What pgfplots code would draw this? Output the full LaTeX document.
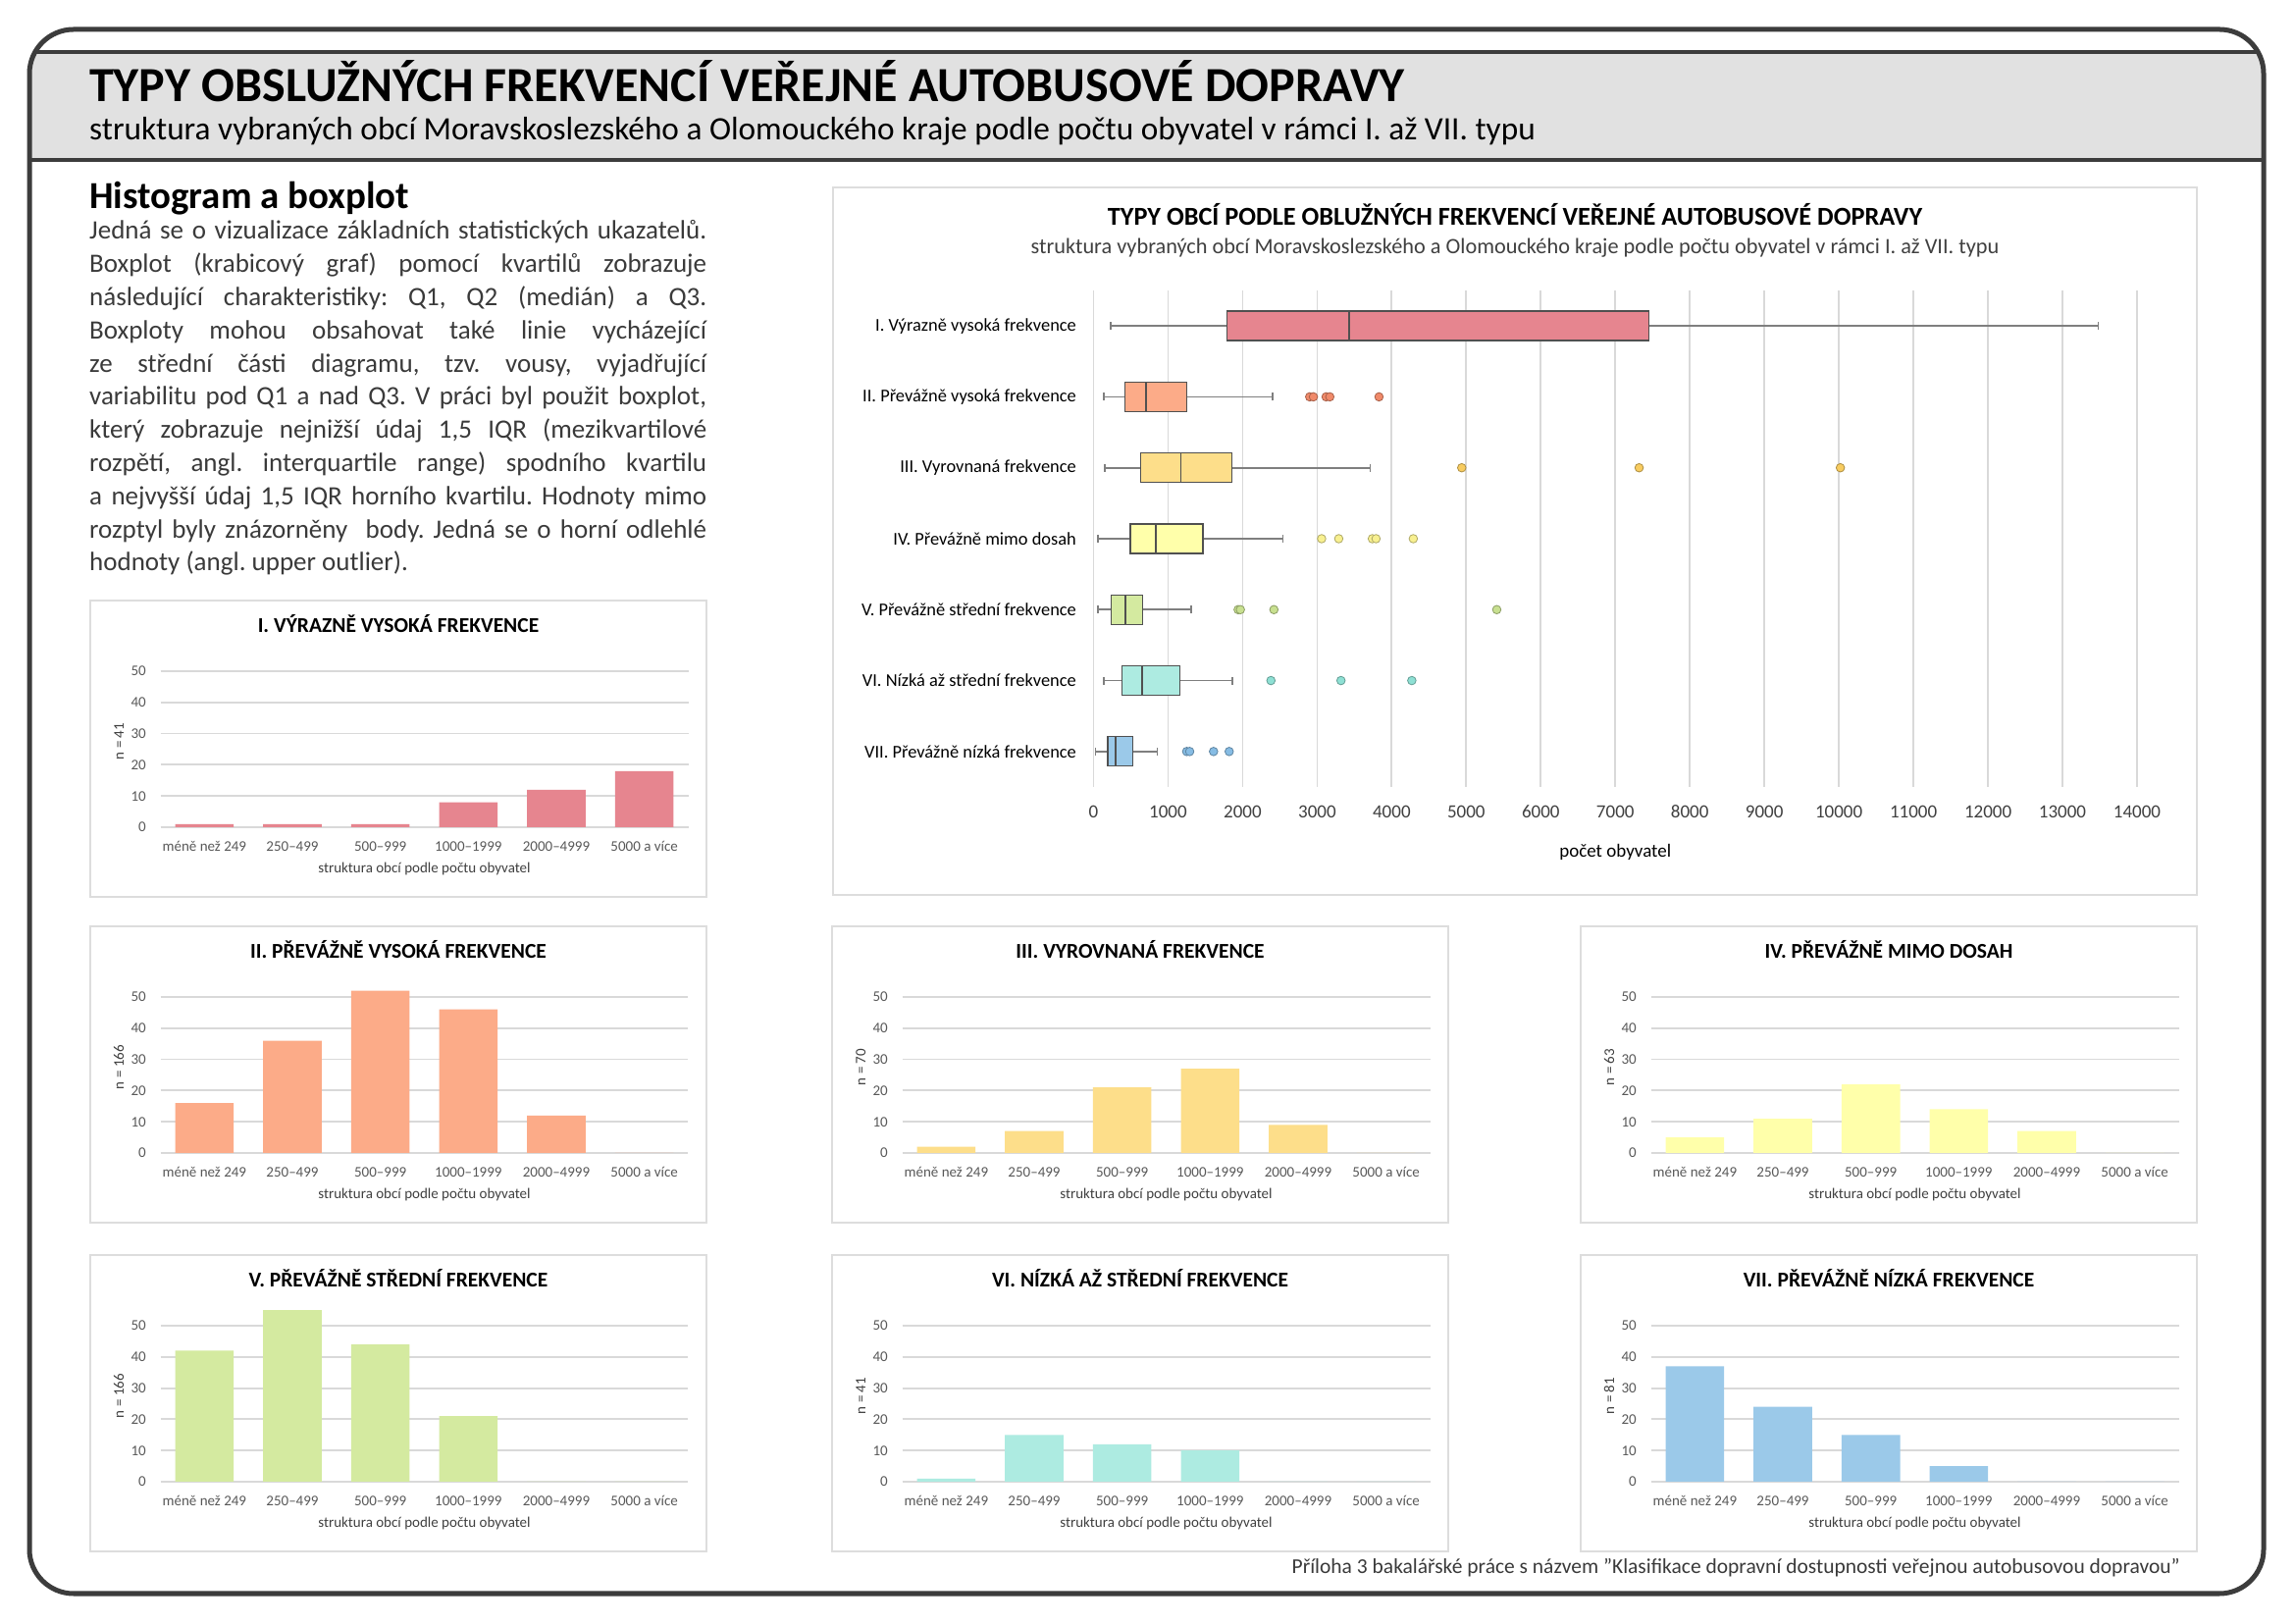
\documentclass[border=0pt]{standalone}
\usepackage{fontspec}
\setmainfont{Carlito}
\usepackage{pgfplots}
\pgfplotsset{compat=1.18}
\usepgfplotslibrary{statistics}
\usetikzlibrary{calc}
\frenchspacing

\definecolor{cI}{HTML}{E6858F}
\definecolor{cII}{HTML}{FCAB88}
\definecolor{cIII}{HTML}{FDDE8A}
\definecolor{cIV}{HTML}{FFFFAA}
\definecolor{cV}{HTML}{D4EAA0}
\definecolor{cVI}{HTML}{ADEBE1}
\definecolor{cVII}{HTML}{9BC9E9}
\definecolor{oII}{HTML}{F08A6A}
\definecolor{oIII}{HTML}{F8CC60}
\definecolor{oIV}{HTML}{F8F090}
\definecolor{oV}{HTML}{C8E090}
\definecolor{oVI}{HTML}{8EE0D4}
\definecolor{oVII}{HTML}{86BCE4}
\definecolor{framedark}{HTML}{3C3C3C}
\definecolor{bandgray}{HTML}{E1E1E1}
\definecolor{framegray}{HTML}{DDDDDD}
\definecolor{gridgray}{HTML}{D9D9D9}
\definecolor{tickgray}{HTML}{595959}
\definecolor{labelgray}{HTML}{404040}
\definecolor{bodygray}{HTML}{3A3A3A}
\definecolor{boxdark}{HTML}{505050}
\definecolor{whiskergray}{HTML}{7F7F7F}

\newcommand{\fs}[1]{\fontsize{#1}{#1}\selectfont}

\pgfplotsset{histstyle/.style={
  anchor=south west, scale only axis, width=538pt, height=174.9pt,
  xmin=-0.5, xmax=5.5, ymin=0, ymax=55, enlargelimits=false,
  axis line style={draw=none}, major tick length=0pt,
  ytick={0,10,20,30,40,50}, yticklabels={0,10,20,30,40,50},
  xtick={0,1,2,3,4,5},
  xticklabels={méně než 249,250–499,500–999,1000–1999,2000–4999,5000 a více},
  ymajorgrids, grid style={gridgray, line width=1.8pt},
  xticklabel style={font=\fs{15}, text=tickgray, anchor=base, inner sep=0pt, yshift=-24.5pt},
  yticklabel style={font=\fs{15}, text=tickgray, anchor=east, inner sep=0pt, xshift=-14.5pt},
  xlabel={struktura obcí podle počtu obyvatel},
  xlabel style={font=\fs{15}, text=labelgray, at={(axis description cs:0.5,0)}, anchor=base, yshift=-46.5pt},
  ylabel style={font=\fs{15}, text=labelgray, at={(axis description cs:-0.0697,0.5)}, anchor=base},
}}

\newcommand{\histpanel}[6]{%
  \draw[framegray, line width=2pt] (#1pt,#2pt) rectangle ++(628pt,-302pt);
  \node[anchor=base, font=\bfseries\fs{21.5}, inner sep=0pt] at ($(#1pt,#2pt)+(314pt,-33pt)$) {#4};
  \begin{axis}[histstyle, at={($(#1pt,#2pt)+(71.5pt,-231pt)$)}, ylabel={n = #5}]
    \addplot[ybar, fill=#3, draw=none, bar width=0.665] coordinates {#6};
  \end{axis}%
}

\begin{document}
\begin{tikzpicture}
\useasboundingbox (0,0) rectangle (2339pt,1654pt);
\fill[white] (0,0) rectangle (2339pt,1654pt);

% header band and frame
\begin{scope}
  \clip[rounded corners=45pt] (30pt,30pt) rectangle (2307pt,1624pt);
  \fill[bandgray] (0,1491pt) rectangle (2339pt,1601pt);
  \draw[framedark, line width=4pt] (0,1601pt) -- (2339pt,1601pt);
  \draw[framedark, line width=4pt] (0,1491pt) -- (2339pt,1491pt);
\end{scope}
\draw[framedark, line width=5pt, rounded corners=45pt] (30pt,30pt) rectangle (2307pt,1624pt);

\node[anchor=base west, inner sep=0pt, font=\bfseries\fs{50}] at (91pt,1550pt) {TYPY OBSLUŽNÝCH FREKVENCÍ VEŘEJNÉ AUTOBUSOVÉ DOPRAVY};
\node[anchor=base west, inner sep=0pt, font=\fs{33.3}] at (91pt,1511pt) {struktura vybraných obcí Moravskoslezského a Olomouckého kraje podle počtu obyvatel v rámci I. až VII. typu};

% left text
\node[anchor=base west, inner sep=0pt, font=\bfseries\fs{38.9}] at (91pt,1441pt) {Histogram a boxplot};
\begin{scope}[every node/.style={anchor=base west, inner sep=0pt, font=\fs{27}, text=bodygray}]
\node at (91pt,1410pt)   {\makebox[629pt][s]{Jedná se o vizualizace základních statistických ukazatelů.}};
\node at (91pt,1376.2pt) {\makebox[629pt][s]{Boxplot (krabicový graf) pomocí kvartilů zobrazuje}};
\node at (91pt,1342.4pt) {\makebox[629pt][s]{následující charakteristiky: Q1, Q2 (medián) a Q3.}};
\node at (91pt,1308.6pt) {\makebox[629pt][s]{Boxploty mohou obsahovat také linie vycházející}};
\node at (91pt,1274.8pt) {\makebox[629pt][s]{ze střední části diagramu, tzv. vousy, vyjadřující}};
\node at (91pt,1241pt)   {\makebox[629pt][s]{variabilitu pod Q1 a nad Q3. V práci byl použit boxplot,}};
\node at (91pt,1207.2pt) {\makebox[629pt][s]{který zobrazuje nejnižší údaj 1,5 IQR (mezikvartilové}};
\node at (91pt,1173.4pt) {\makebox[629pt][s]{rozpětí, angl. interquartile range) spodního kvartilu}};
\node at (91pt,1139.6pt) {\makebox[629pt][s]{a nejvyšší údaj 1,5 IQR horního kvartilu. Hodnoty mimo}};
\node at (91pt,1105.8pt) {\makebox[629pt][s]{rozptyl byly znázorněny \ body. Jedná se o horní odlehlé}};
\node at (91pt,1072pt)   {hodnoty (angl. upper outlier).};
\end{scope}

% histograms
\histpanel{92}{1042}{cI}{I. VÝRAZNĚ VYSOKÁ FREKVENCE}{41}{(0,1) (1,1) (2,1) (3,8) (4,12) (5,18)}
\histpanel{92}{710}{cII}{II. PŘEVÁŽNĚ VYSOKÁ FREKVENCE}{166}{(0,16) (1,36) (2,52) (3,46) (4,12) (5,0)}
\histpanel{848}{710}{cIII}{III. VYROVNANÁ FREKVENCE}{70}{(0,2) (1,7) (2,21) (3,27) (4,9) (5,0)}
\histpanel{1611}{710}{cIV}{IV. PŘEVÁŽNĚ MIMO DOSAH}{63}{(0,5) (1,11) (2,22) (3,14) (4,7) (5,0)}
\histpanel{92}{375}{cV}{V. PŘEVÁŽNĚ STŘEDNÍ FREKVENCE}{166}{(0,42) (1,55) (2,44) (3,21) (4,0) (5,0)}
\histpanel{848}{375}{cVI}{VI. NÍZKÁ AŽ STŘEDNÍ FREKVENCE}{41}{(0,1) (1,15) (2,12) (3,10) (4,0) (5,0)}
\histpanel{1611}{375}{cVII}{VII. PŘEVÁŽNĚ NÍZKÁ FREKVENCE}{81}{(0,37) (1,24) (2,15) (3,5) (4,0) (5,0)}

% boxplot panel
\draw[framegray, line width=2pt] (849pt,1463pt) rectangle (2239pt,742pt);
\node[anchor=base, inner sep=0pt, font=\bfseries\fs{26.3}] at (1544pt,1424pt) {TYPY OBCÍ PODLE OBLUŽNÝCH FREKVENCÍ VEŘEJNÉ AUTOBUSOVÉ DOPRAVY};
\node[anchor=base, inner sep=0pt, font=\fs{22.3}, text=labelgray] at (1544pt,1395pt) {struktura vybraných obcí Moravskoslezského a Olomouckého kraje podle počtu obyvatel v rámci I. až VII. typu};

\begin{axis}[at={(1114.5pt,852pt)}, anchor=south west, scale only axis,
  width=1063.5pt, height=506pt,
  xmin=0, xmax=14000, ymin=0.5, ymax=7.5, enlargelimits=false,
  axis line style={draw=none}, major tick length=0pt,
  xmajorgrids, grid style={gridgray, line width=1.8pt},
  xtick={0,1000,...,14000}, scaled x ticks=false,
  xticklabels={0,1000,2000,3000,4000,5000,6000,7000,8000,9000,10000,11000,12000,13000,14000},
  ytick={1,2,3,4,5,6,7},
  yticklabels={VII. Převážně nízká frekvence, VI. Nízká až střední frekvence, V. Převážně střední frekvence, IV. Převážně mimo dosah, III. Vyrovnaná frekvence, II. Převážně vysoká frekvence, I. Výrazně vysoká frekvence},
  xticklabel style={font=\fs{19}, text=labelgray, anchor=base, inner sep=0pt, yshift=-32pt},
  yticklabel style={font=\fs{18.4}, text=black, anchor=east, inner sep=0pt, xshift=-17.5pt},
  xlabel={počet obyvatel},
  xlabel style={font=\fs{19}, text=black, at={(axis description cs:0.5,0)}, anchor=base, yshift=-71.5pt},
  boxplot/draw direction=x,
  bx/.style={draw=boxdark, line width=1.3pt,
    boxplot/box extend=0.415, boxplot/whisker extend=0.11,
    boxplot/every whisker/.style={draw=whiskergray, line width=1.6pt},
    boxplot/every median/.style={draw=boxdark, line width=1.4pt}},
  om/.style={only marks, mark=*, mark size=4.3pt, mark options={fill=#1, draw=#1!70!black, line width=0.8pt}},
]
\addplot[bx, fill=cI, boxplot prepared={draw position=7, lower whisker=230, lower quartile=1790, median=3430, upper quartile=7450, upper whisker=13480}] coordinates {};
\addplot[bx, fill=cII, boxplot prepared={draw position=6, lower whisker=140, lower quartile=420, median=704, upper quartile=1252, upper whisker=2400}] coordinates {};
\addplot[bx, fill=cIII, boxplot prepared={draw position=5, lower whisker=155, lower quartile=635, median=1170, upper quartile=1855, upper whisker=3710}] coordinates {};
\addplot[bx, fill=cIV, boxplot prepared={draw position=4, lower whisker=60, lower quartile=495, median=838, upper quartile=1467, upper whisker=2540}] coordinates {};
\addplot[bx, fill=cV, boxplot prepared={draw position=3, lower whisker=60, lower quartile=237, median=430, upper quartile=660, upper whisker=1312}] coordinates {};
\addplot[bx, fill=cVI, boxplot prepared={draw position=2, lower whisker=140, lower quartile=383, median=650, upper quartile=1162, upper whisker=1866}] coordinates {};
\addplot[bx, fill=cVII, boxplot prepared={draw position=1, lower whisker=24, lower quartile=190, median=298, upper quartile=524, upper whisker=857}] coordinates {};
\addplot[om=oII] coordinates {(2900,6) (2950,6) (3120,6) (3170,6) (3830,6)};
\addplot[om=oIII] coordinates {(4940,5) (7320,5) (10020,5)};
\addplot[om=oIV] coordinates {(3060,4) (3290,4) (3740,4) (3790,4) (4290,4)};
\addplot[om=oV] coordinates {(1940,3) (1970,3) (2420,3) (5410,3)};
\addplot[om=oVI] coordinates {(2380,2) (3320,2) (4270,2)};
\addplot[om=oVII] coordinates {(1250,1) (1290,1) (1610,1) (1820,1)};
\end{axis}

\node[anchor=base east, inner sep=0pt, font=\fs{21.5}, text=bodygray] at (2222pt,50pt) {Příloha 3 bakalářské práce s názvem "Klasifikace dopravní dostupnosti veřejnou autobusovou dopravou"};
\end{tikzpicture}
\end{document}
